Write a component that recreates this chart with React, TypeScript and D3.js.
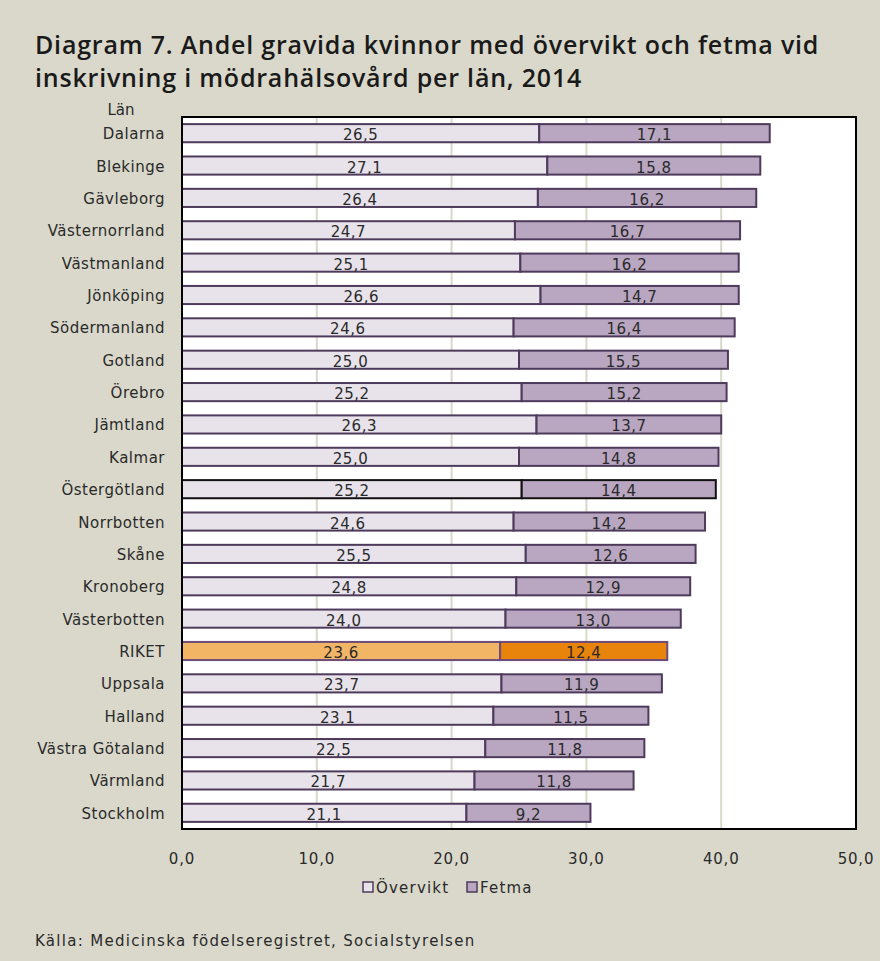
import React from "react";
import * as d3 from "d3";

const categories = ["Dalarna","Blekinge","Gävleborg","Västernorrland","Västmanland","Jönköping","Södermanland","Gotland","Örebro","Jämtland","Kalmar","Östergötland","Norrbotten","Skåne","Kronoberg","Västerbotten","RIKET","Uppsala","Halland","Västra Götaland","Värmland","Stockholm"];
const overvikt = [26.5,27.1,26.4,24.7,25.1,26.6,24.6,25.0,25.2,26.3,25.0,25.2,24.6,25.5,24.8,24.0,23.6,23.7,23.1,22.5,21.7,21.1];
const fetma = [17.1,15.8,16.2,16.7,16.2,14.7,16.4,15.5,15.2,13.7,14.8,14.4,14.2,12.6,12.9,13.0,12.4,11.9,11.5,11.8,11.8,9.2];
const xTicks = [0,10,20,30,40,50];
const seriesNames = ["Övervikt","Fetma"];

const W = 880, H = 961;
const plot = { left: 182, right: 856, top: 117, bottom: 829 };
const BG = "#d9d8ca";
const TFONT = "'Open Sans', sans-serif";
const FONT = "'DejaVu Sans', sans-serif";
const TXT = "#2a2a2a";

export default function App() {
  const x = d3.scaleLinear().domain([0, 50]).range([plot.left, plot.right]);
  const y = d3.scaleBand<string>().domain(categories).range([plot.top, plot.bottom]).paddingInner(0.44).paddingOuter(0.22);
  const fmt = (v: number) => v.toFixed(1).replace(".", ",");
  const bh = y.bandwidth();
  return (
    <div style={{ position: "fixed", left: 0, top: 0 }}>
      <svg width={W} height={H} style={{ display: "block", fontFamily: FONT }}>
        <rect x={0} y={0} width={W} height={H} fill={BG} />
        <g fontFamily={TFONT} fontSize={25} fontWeight={600} fill="#1a1a1a" letterSpacing={0.8}>
          <text x={35} y={54}>Diagram 7. Andel gravida kvinnor med övervikt och fetma vid</text>
          <text x={35} y={87}>inskrivning i mödrahälsovård per län, 2014</text>
        </g>
        <rect x={plot.left} y={plot.top} width={plot.right - plot.left} height={plot.bottom - plot.top} fill="#ffffff" />
        {xTicks.slice(1, -1).map(t => (
          <line key={t} x1={x(t)} x2={x(t)} y1={plot.top} y2={plot.bottom} stroke={BG} strokeWidth={2} />
        ))}
        {categories.map((c, i) => {
          const y0 = y(c)!;
          const riket = c === "RIKET";
          const stroke = c === "Östergötland" ? "#111111" : riket ? "#6b4c7a" : "#4e3b5c";
          const f1 = riket ? "#f2b566" : "#e8e3eb";
          const f2 = riket ? "#e8830c" : "#b9a6c1";
          const a = overvikt[i], b = fetma[i];
          return (
            <g key={c}>
              <rect x={x(0)} y={y0} width={x(a) - x(0)} height={bh} fill={f1} stroke={stroke} strokeWidth={2} />
              <rect x={x(a)} y={y0} width={x(a + b) - x(a)} height={bh} fill={f2} stroke={stroke} strokeWidth={2} />
              <text x={(x(0) + x(a)) / 2} y={y0 + bh / 2 + 7} fontSize={15} letterSpacing={0.5} textAnchor="middle" fill={TXT}>{fmt(a)}</text>
              <text x={(x(a) + x(a + b)) / 2} y={y0 + bh / 2 + 7} fontSize={15} letterSpacing={0.5} textAnchor="middle" fill={TXT}>{fmt(b)}</text>
              <text x={165} y={y0 + bh / 2 + 6} fontSize={15} letterSpacing={0.5} textAnchor="end" fill={TXT}>{c}</text>
            </g>
          );
        })}
        <rect x={plot.left} y={plot.top} width={plot.right - plot.left} height={plot.bottom - plot.top} fill="none" stroke="#000" strokeWidth={2} />
        <text x={121} y={115} fontSize={15} textAnchor="middle" fill={TXT}>Län</text>
        {xTicks.map(t => (
          <text key={t} x={x(t)} y={864} fontSize={15} letterSpacing={0.8} textAnchor="middle" fill={TXT}>{fmt(t)}</text>
        ))}
        <g>
          <rect x={363} y={882} width={10} height={10} fill="#e8e3eb" stroke="#4e3b5c" strokeWidth={1.5} />
          <text x={376} y={893} fontSize={15} letterSpacing={1.2} fill={TXT}>{seriesNames[0]}</text>
          <rect x={467} y={882} width={10} height={10} fill="#b9a6c1" stroke="#4e3b5c" strokeWidth={1.5} />
          <text x={480} y={893} fontSize={15} letterSpacing={1.2} fill={TXT}>{seriesNames[1]}</text>
        </g>
        <text x={35} y={946} fontSize={15} letterSpacing={1.3} fill={TXT}>Källa: Medicinska födelseregistret, Socialstyrelsen</text>
      </svg>
    </div>
  );
}
